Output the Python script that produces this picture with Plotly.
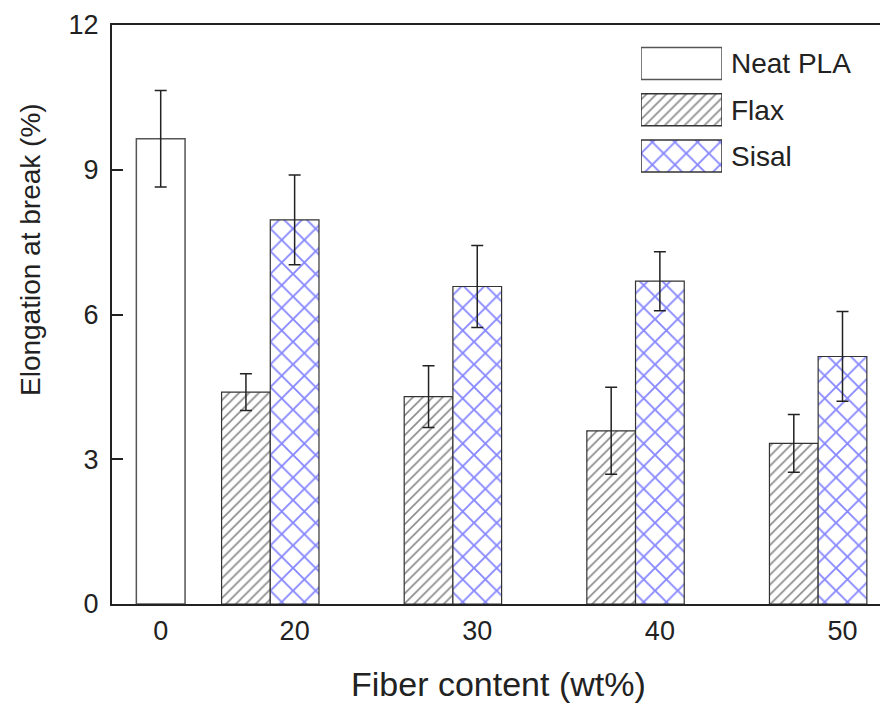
import plotly.graph_objects as go

# ---------------- data ----------------
categories = ["0", "20", "30", "40", "50"]
group_pos = [0, 2.75, 6.5, 10.25, 14.0]          # axis positions of the category labels

neat_pla = [9.64]
neat_pla_err = [1.0]

flax = [4.39, 4.30, 3.59, 3.33]
flax_err = [0.38, 0.64, 0.90, 0.60]

sisal = [7.96, 6.58, 6.69, 5.13]
sisal_err = [0.93, 0.85, 0.61, 0.93]

legend_names = ["Neat PLA", "Flax", "Sisal"]
y_ticks = [0, 3, 6, 9, 12]

# ---------------- styles ----------------
FONT = "Arial, Liberation Sans, sans-serif"
TXT = "#222222"
BAR_W = 1.0
OUTLINE = "#333333"
BLUE = "#1010ff"
ERR = dict(type="data", visible=True, color="#222222", thickness=1.5, width=6)

fiber_pos = group_pos[1:]
flax_x = [p - BAR_W for p in fiber_pos]
sisal_x = fiber_pos

fig = go.Figure()

fig.add_trace(go.Bar(
    x=[group_pos[0]], y=neat_pla, width=BAR_W, name=legend_names[0],
    marker=dict(color="white", line=dict(color="#555555", width=1.5)),
    error_y=dict(array=neat_pla_err, **ERR), showlegend=False))

fig.add_trace(go.Bar(
    x=flax_x, y=flax, width=BAR_W, name=legend_names[1],
    marker=dict(color="white", line=dict(color=OUTLINE, width=1.2),
                pattern=dict(shape="/", size=7, solidity=0.24,
                             fgcolor="#1a1a1a", bgcolor="white", fillmode="overlay")),
    error_y=dict(array=flax_err, **ERR), showlegend=False))

fig.add_trace(go.Bar(
    x=sisal_x, y=sisal, width=BAR_W, name=legend_names[2],
    marker=dict(color="white", line=dict(color=OUTLINE, width=1.2),
                pattern=dict(shape="x", size=16, solidity=0.22,
                             fgcolor=BLUE, bgcolor="white", fillmode="overlay")),
    error_y=dict(array=sisal_err, **ERR), showlegend=False))

# legend swatches drawn as bars on a small inset axis
fig.add_trace(go.Bar(
    y=legend_names, x=[1, 1, 1], orientation="h", width=0.69,
    xaxis="x2", yaxis="y2", showlegend=False, hoverinfo="skip",
    marker=dict(color="white",
                line=dict(color=["#555555", OUTLINE, OUTLINE], width=1.5),
                pattern=dict(shape=["", "/", "x"], size=[7, 7, 16],
                             solidity=[0.24, 0.24, 0.22],
                             fgcolor=["#1a1a1a", "#1a1a1a", BLUE],
                             bgcolor="white", fillmode="overlay"))))

W, H = 880, 709
L, R, T, B = 112, 0, 25, 105
pw, ph = W - L - R, H - T - B

def px_x(x):
    return (x - L) / pw

def px_y(y):
    return (H - B - y) / ph

fig.update_layout(
    width=W, height=H,
    margin=dict(l=L, r=R, t=T, b=B),
    paper_bgcolor="white", plot_bgcolor="white",
    barmode="overlay",
    font=dict(family=FONT, color=TXT),
    xaxis=dict(range=[-1.0, 14.77], tickvals=group_pos, ticktext=categories,
               showline=True, linewidth=2, linecolor="#222222", mirror=True,
               ticks="", showgrid=False, zeroline=False, ticklabelstandoff=2,
               tickfont=dict(size=27, family=FONT, color=TXT)),
    yaxis=dict(range=[0, 12], tickvals=y_ticks, showline=True, linewidth=2,
               linecolor="#222222", ticks="inside", ticklen=11, tickwidth=2,
               tickcolor="#222222", showgrid=False, zeroline=False,
               ticklabelstandoff=6,
               tickfont=dict(size=27, family=FONT, color=TXT)),
    xaxis2=dict(domain=[px_x(641), px_x(722)], range=[0, 1], anchor="y2",
                visible=False, fixedrange=True),
    yaxis2=dict(domain=[px_y(179.25), px_y(40.25)], anchor="x2", side="right",
                autorange="reversed", showline=False, ticks="", showgrid=False,
                zeroline=False, ticklabelstandoff=8,
                tickfont=dict(size=28, family=FONT, color=TXT)),
    annotations=[
        dict(text="Elongation at break (%)", textangle=-90, x=px_x(30), y=px_y(250),
             xref="paper", yref="paper", xanchor="center", yanchor="middle",
             showarrow=False, font=dict(size=28, family=FONT, color=TXT)),
        dict(text="Fiber content (wt%)", x=px_x(498), y=px_y(684),
             xref="paper", yref="paper", xanchor="center", yanchor="middle",
             showarrow=False, font=dict(size=34, family=FONT, color=TXT)),
    ],
)

fig.write_html("out.html")
